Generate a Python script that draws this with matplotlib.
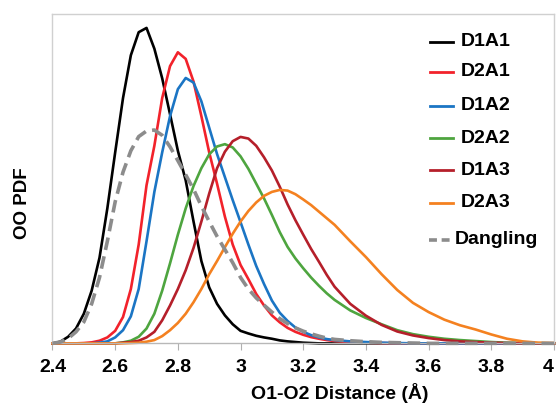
import matplotlib
matplotlib.use('Agg')
import matplotlib.pyplot as plt

plt.rcParams['font.family'] = ['Liberation Sans', 'DejaVu Sans']
plt.rcParams['font.weight'] = 'bold'

# O1-O2 distance grid (angstrom)
dist = [2.400, 2.425, 2.450, 2.475, 2.500, 2.525, 2.550, 2.575, 2.600, 2.625,
        2.650, 2.675, 2.700, 2.725, 2.750, 2.775, 2.800, 2.825, 2.850, 2.875,
        2.900, 2.925, 2.950, 2.975, 3.000, 3.025, 3.050, 3.075, 3.100, 3.125,
        3.150, 3.175, 3.200, 3.225, 3.250, 3.275, 3.300, 3.35, 3.40, 3.45,
        3.50, 3.55, 3.60, 3.65, 3.70, 3.75, 3.80, 3.85, 3.90, 3.95, 4.00]

# OO PDF values (arbitrary units)
d1a1 = [0.0, 0.005, 0.02, 0.045, 0.09, 0.16, 0.26, 0.41, 0.58, 0.745,
        0.875, 0.945, 0.958, 0.895, 0.805, 0.696, 0.585, 0.495, 0.37, 0.25,
        0.17, 0.12, 0.085, 0.058, 0.038, 0.03, 0.023, 0.018, 0.014, 0.009,
        0.006, 0.004, 0.002, 0.001, 0.0, 0.0, 0.0, 0.0, 0.0, 0.0,
        0.0, 0.0, 0.0, 0.0, 0.0, 0.0, 0.0, 0.0, 0.0, 0.0, 0.0]
d2a1 = [0.0, 0.0, 0.0, 0.0, 0.001, 0.003, 0.008, 0.018, 0.038, 0.08,
        0.165, 0.3, 0.48, 0.6, 0.745, 0.842, 0.884, 0.864, 0.795, 0.69,
        0.58, 0.485, 0.385, 0.30, 0.238, 0.195, 0.15, 0.115, 0.085, 0.064,
        0.047, 0.035, 0.026, 0.019, 0.014, 0.01, 0.007, 0.004, 0.002, 0.001,
        0.0, 0.0, 0.0, 0.0, 0.0, 0.0, 0.0, 0.0, 0.0, 0.0, 0.0]
d1a2 = [0.0, 0.0, 0.0, 0.0, 0.0, 0.0, 0.002, 0.006, 0.018, 0.04,
        0.082, 0.165, 0.31, 0.46, 0.58, 0.69, 0.772, 0.806, 0.792, 0.735,
        0.655, 0.575, 0.505, 0.435, 0.368, 0.30, 0.235, 0.18, 0.13, 0.093,
        0.068, 0.048, 0.035, 0.025, 0.018, 0.013, 0.01, 0.006, 0.004, 0.002,
        0.001, 0.0, 0.0, 0.0, 0.0, 0.0, 0.0, 0.0, 0.0, 0.0, 0.0]
d2a2 = [0.0, 0.0, 0.0, 0.0, 0.0, 0.0, 0.0, 0.0, 0.0, 0.003,
        0.008, 0.02, 0.045, 0.09, 0.16, 0.243, 0.33, 0.41, 0.478, 0.532,
        0.574, 0.598, 0.605, 0.595, 0.568, 0.53, 0.485, 0.44, 0.39, 0.338,
        0.293, 0.258, 0.228, 0.2, 0.175, 0.152, 0.132, 0.1, 0.077, 0.058,
        0.04, 0.028, 0.02, 0.014, 0.01, 0.007, 0.004, 0.002, 0.001, 0.0005, 0.0]
d1a3 = [0.0, 0.0, 0.0, 0.0, 0.0, 0.0, 0.0, 0.0, 0.0, 0.002,
        0.004, 0.008, 0.018, 0.035, 0.07, 0.115, 0.165, 0.222, 0.29, 0.37,
        0.455, 0.532, 0.582, 0.614, 0.627, 0.622, 0.6, 0.565, 0.525, 0.476,
        0.422, 0.374, 0.33, 0.287, 0.248, 0.208, 0.172, 0.12, 0.084, 0.056,
        0.036, 0.024, 0.016, 0.01, 0.006, 0.004, 0.002, 0.001, 0.0, 0.0, 0.0]
d2a3 = [0.0, 0.0, 0.0, 0.0, 0.0, 0.0, 0.0, 0.0, 0.0, 0.0,
        0.001, 0.002, 0.005, 0.01, 0.022, 0.04, 0.062, 0.09, 0.125, 0.165,
        0.21, 0.25, 0.292, 0.333, 0.37, 0.402, 0.428, 0.448, 0.46, 0.466,
        0.464, 0.453, 0.437, 0.42, 0.4, 0.38, 0.36, 0.31, 0.262, 0.21,
        0.162, 0.123, 0.095, 0.072, 0.055, 0.042, 0.027, 0.014, 0.006, 0.002, 0.001]
dangling = [0.0, 0.004, 0.015, 0.035, 0.065, 0.12, 0.2, 0.31, 0.43, 0.52,
            0.585, 0.628, 0.645, 0.648, 0.632, 0.597, 0.555, 0.512, 0.468, 0.417,
            0.37, 0.325, 0.285, 0.245, 0.2, 0.165, 0.138, 0.116, 0.095, 0.075,
            0.06, 0.047, 0.037, 0.029, 0.022, 0.016, 0.012, 0.008, 0.005, 0.003,
            0.002, 0.001, 0.0, 0.0, 0.0, 0.0, 0.0, 0.0, 0.0, 0.0, 0.0]

names = ['D1A1', 'D2A1', 'D1A2', 'D2A2', 'D1A3', 'D2A3', 'Dangling']
series = [d1a1, d2a1, d1a2, d2a2, d1a3, d2a3, dangling]
colors = ['#000000', '#f2222b', '#1b75c4', '#4ea53f', '#b51f2a', '#f48120', '#8c8c8c']

xticks = [2.4, 2.6, 2.8, 3.0, 3.2, 3.4, 3.6, 3.8, 4.0]
xticklabels = ['2.4', '2.6', '2.8', '3', '3.2', '3.4', '3.6', '3.8', '4']

fig = plt.figure(figsize=(5.56, 4.03), dpi=100)
ax = fig.add_axes([0.0944, 0.148, 0.902, 0.817])

for name, ys, c in zip(names, series, colors):
    if name == 'Dangling':
        ax.plot(dist, ys, color=c, lw=2.6, dashes=(3.5, 1.8), zorder=5,
                clip_on=False)
    else:
        ax.plot(dist, ys, color=c, lw=1.9, solid_joinstyle='round',
                clip_on=False)

ax.set_xlim(2.4, 4.0)
ax.set_ylim(0, 1)
ax.set_xticks(xticks)
ax.set_xticklabels(xticklabels, fontsize=14, fontweight='bold')
ax.get_xticklabels()[-1].set_horizontalalignment('right')
ax.set_yticks([])
ax.tick_params(axis='x', direction='out', length=5, color='#b0b0b0', pad=6)
for sp in ax.spines.values():
    sp.set_color('#d0d0d0')
    sp.set_linewidth(1.0)
ax.spines['bottom'].set_color('#b8b8b8')

ax.set_xlabel('O1-O2 Distance (Å)', fontsize=14, fontweight='bold')
ax.xaxis.set_label_coords(0.573, -0.151)
ax.xaxis.label.set_va('center')
ax.set_ylabel('OO PDF', fontsize=13.5, fontweight='bold')
ax.yaxis.set_label_coords(-0.059, 0.426)
ax.yaxis.label.set_va('center')

# legend drawn by hand, rows in axes coordinates
row_y = [0.916, 0.825, 0.721, 0.623, 0.526, 0.427, 0.314]
for name, c, y in zip(names, colors, row_y):
    if name == 'Dangling':
        ax.plot([0.7507, 0.7992], [y, y], color=c, lw=2.6, dashes=(2.2, 1.3),
                transform=ax.transAxes, clip_on=False)
        ax.text(0.8026, y, name, transform=ax.transAxes, fontsize=14,
                fontweight='bold', va='center', ha='left')
    else:
        ax.plot([0.7527, 0.7992], [y, y], color=c, lw=2.0,
                transform=ax.transAxes, clip_on=False)
        ax.text(0.8145, y, name, transform=ax.transAxes, fontsize=14,
                fontweight='bold', va='center', ha='left')

fig.savefig('out.png', dpi=100)
